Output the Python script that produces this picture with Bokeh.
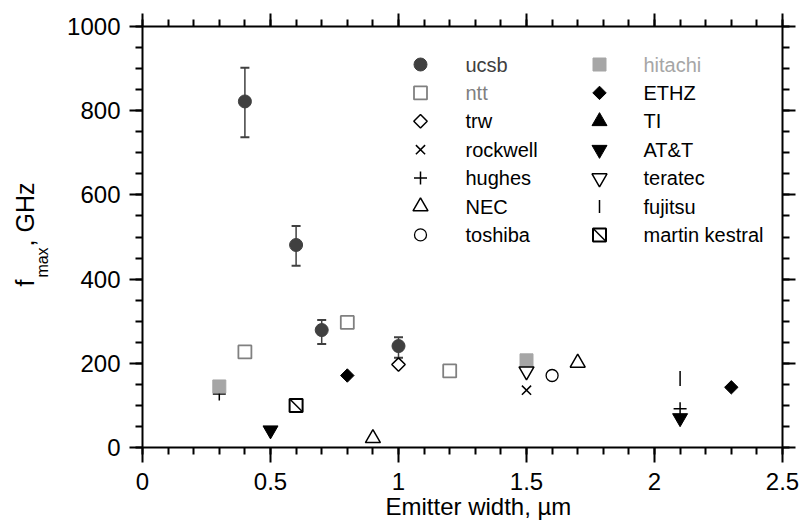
import math
from bokeh.plotting import figure
from bokeh.layouts import row
from bokeh.models import (Range1d, FixedTicker, LinearAxis, Title,
                          Whisker, TeeHead, ColumnDataSource, CustomJSTickFormatter)
from bokeh.core.properties import value
from bokeh.embed import file_html
from bokeh.resources import INLINE

# ---------------- data ----------------
x_ticks = [0, 0.5, 1, 1.5, 2, 2.5]
x_tick_labels = ["0", "0.5", "1", "1.5", "2", "2.5"]
x_minor = [round(0.1 * i, 1) for i in range(26)]
y_ticks = [0, 200, 400, 600, 800, 1000]
y_tick_labels = ["0", "200", "400", "600", "800", "1000"]
y_minor = [50 * i for i in range(21)]

ucsb_x = [0.4, 0.6, 0.7, 1.0]
ucsb_y = [822, 481, 279, 241]
ucsb_hi = [902, 526, 303, 262]
ucsb_lo = [737, 432, 246, 213]

ntt_x = [0.4, 0.8, 1.2]
ntt_y = [227, 297, 182]
hitachi_x = [0.3, 1.5]
hitachi_y = [145, 207]
trw_x = [1.0]
trw_y = [197]
rockwell_x = [1.5]
rockwell_y = [136]
hughes_x = [0.3, 2.1]
hughes_y = [127, 92]
nec_x = [0.9, 1.7]
nec_y = [22, 201]
toshiba_x = [1.6]
toshiba_y = [171]
ethz_x = [0.8, 2.3]
ethz_y = [171, 143]
ti_x = []
ti_y = []
att_x = [0.5, 2.1]
att_y = [41, 70]
teratec_x = [1.5]
teratec_y = [181]
fujitsu_x = [2.1]
fujitsu_y = [164]
martin_x = [0.6]
martin_y = [100]

legend_col1 = ["ucsb", "ntt", "trw", "rockwell", "hughes", "NEC", "toshiba"]
legend_col2 = ["hitachi", "ETHZ", "TI", "AT&T", "teratec", "fujitsu", "martin kestral"]

FONT = "Liberation Sans"
DARK = "#404040"
GRAY = "#808080"
LIGHT = "#a6a6a6"

# canvas geometry (pixels)
W, H = 803, 526
LW = 60                      # width of the strip holding the y title
FL, FR, FT, FB = 142, 782, 26, 447   # frame edges on the canvas

p = figure(width=W - LW, height=H, x_range=Range1d(0, 2.5), y_range=Range1d(0, 1000),
           output_backend="svg", toolbar_location=None, title=None,
           x_axis_location=None, y_axis_location=None,
           min_border_left=FL - LW, min_border_right=W - FR,
           min_border_top=FT, min_border_bottom=H - FB)
p.outline_line_color = None
for g in p.grid:
    g.visible = False
p.background_fill_color = "white"
p.border_fill_color = "white"


def mk_axis(ticks, minor, major_out, labels=None, standoff=8):
    ax = LinearAxis(ticker=FixedTicker(ticks=ticks, minor_ticks=minor),
                    axis_line_width=2, axis_line_color="black",
                    major_tick_line_width=2, minor_tick_line_width=2,
                    major_tick_in=0, major_tick_out=major_out,
                    minor_tick_in=0, minor_tick_out=7,
                    major_label_text_font=FONT, major_label_text_color="black")
    if labels is not None:
        ax.major_label_overrides = {t: l for t, l in zip(ticks, labels)}
        ax.major_label_text_font_size = "24px"
        ax.major_label_standoff = standoff
    else:
        ax.formatter = CustomJSTickFormatter(code="return ''")
        ax.major_label_text_font_size = "0px"
        ax.major_label_standoff = 0
    return ax


p.add_layout(mk_axis(x_ticks, x_minor, 15, x_tick_labels, 10), "below")
p.add_layout(mk_axis(y_ticks, y_minor, 13, y_tick_labels, 9), "left")
p.add_layout(mk_axis(x_ticks, x_minor, 13), "above")
p.add_layout(mk_axis(y_ticks, y_minor, 13), "right")

# x title below the axis
p.add_layout(Title(text="Emitter width, µm", align="left", offset=243,
                   standoff=-4, text_font=FONT, text_font_size="24px",
                   text_font_style="normal", text_color="black"), "below")

# error bars
src_err = ColumnDataSource(dict(x=ucsb_x, hi=ucsb_hi, lo=ucsb_lo))
wh = Whisker(source=src_err, base="x", upper="hi", lower="lo", dimension="height",
             line_color=DARK, line_width=1.5, level="underlay",
             upper_head=TeeHead(size=9, line_width=2, line_color=DARK),
             lower_head=TeeHead(size=9, line_width=2, line_color=DARK))
p.add_layout(wh)

styles = {
    "ucsb": dict(marker="circle", size=13, fill_color=DARK, line_color=DARK),
    "ntt": dict(marker="square", size=13, fill_color="white", line_color=GRAY, line_width=1.8),
    "trw": dict(marker="square", size=9.5, angle=math.pi / 4, fill_color="white",
                line_color="black", line_width=1.5),
    "rockwell": dict(marker="x", size=13, line_color="black", line_width=1.5),
    "hughes": dict(marker="cross", size=13, line_color="black", line_width=1.5),
    "NEC": dict(marker="triangle", size=15, fill_color="white", line_color="black", line_width=1.5),
    "toshiba": dict(marker="circle", size=12, fill_color="white", line_color="black", line_width=1.3),
    "hitachi": dict(marker="square", size=13, fill_color=LIGHT, line_color=LIGHT),
    "ETHZ": dict(marker="square", size=9.5, angle=math.pi / 4, fill_color="black", line_color="black"),
    "TI": dict(marker="triangle", size=15, fill_color="black", line_color="black"),
    "AT&T": dict(marker="inverted_triangle", size=15, fill_color="black", line_color="black"),
    "teratec": dict(marker="inverted_triangle", size=15, fill_color="white",
                    line_color="black", line_width=1.5),
    "fujitsu": dict(marker="dash", size=15, angle=math.pi / 2, line_color="black", line_width=1.5),
    "martin kestral": dict(marker="square", size=13, fill_color="white", line_color="black", line_width=2),
}
mk_diag = dict(marker="dash", size=18, angle=-math.pi / 4, line_color="black", line_width=1.5)

series = {
    "AT&T": (att_x, att_y), "hughes": (hughes_x, hughes_y), "hitachi": (hitachi_x, hitachi_y),
    "ntt": (ntt_x, ntt_y), "ucsb": (ucsb_x, ucsb_y), "trw": (trw_x, trw_y),
    "rockwell": (rockwell_x, rockwell_y), "NEC": (nec_x, nec_y), "toshiba": (toshiba_x, toshiba_y),
    "ETHZ": (ethz_x, ethz_y), "TI": (ti_x, ti_y), "teratec": (teratec_x, teratec_y),
    "fujitsu": (fujitsu_x, fujitsu_y), "martin kestral": (martin_x, martin_y),
}
for name, (xs, ys) in series.items():
    p.scatter(xs, ys, **styles[name])
p.scatter(martin_x, martin_y, **mk_diag)


# -------- legend (drawn in the frame) ---------
def dx(px):
    return (px - FL) / (FR - FL) * 2.5


def dy(py):
    return (FB - py) / (FB - FT) * 1000


rows = [64 + 28.4 * i for i in range(7)]
label_color = {"ucsb": DARK, "ntt": GRAY, "hitachi": LIGHT}
lx, ly, lt, lc = [], [], [], []
for col, (gx, tx) in ((legend_col1, (420, 465)), (legend_col2, (599, 643))):
    for i, name in enumerate(col):
        st = dict(styles[name])
        if name == "fujitsu":
            st["size"] = 13
        p.scatter([dx(gx)], [dy(rows[i])], **st)
        if name == "martin kestral":
            p.scatter([dx(gx)], [dy(rows[i])], **mk_diag)
        lx.append(dx(tx))
        ly.append(dy(rows[i]))
        lt.append(name)
        lc.append(label_color.get(name, "black"))
p.text(x=lx, y=ly, text=lt, text_color=lc, text_baseline="middle", text_align="left",
       text_font=value(FONT), text_font_size="20px")

# -------- y title strip (its frame is aligned with the main frame: rows FT..FB) ---------
q = figure(width=LW, height=H, x_range=Range1d(0, LW), y_range=Range1d(H - FB, H - FT),
           output_backend="svg", toolbar_location=None, title=None,
           x_axis_location=None, y_axis_location=None,
           min_border_left=0, min_border_right=0, min_border_top=0, min_border_bottom=0)
q.outline_line_color = None
for g in q.grid:
    g.visible = False
q.background_fill_color = "white"
q.border_fill_color = "white"
q.text(x=[24.3, 24.3], y=[H - 282.5, H - 214], text=["f", ", GHz"], angle=math.pi / 2,
       text_align="center", text_baseline="middle", text_color="black",
       text_font=value(FONT), text_font_size="25px")
q.text(x=[41.5], y=[H - 262], text=["max"], angle=math.pi / 2,
       text_align="center", text_baseline="middle", text_color="black",
       text_font=value(FONT), text_font_size="16px")

layout = row(q, p)
open("out.html", "w").write(file_html(layout, INLINE))
